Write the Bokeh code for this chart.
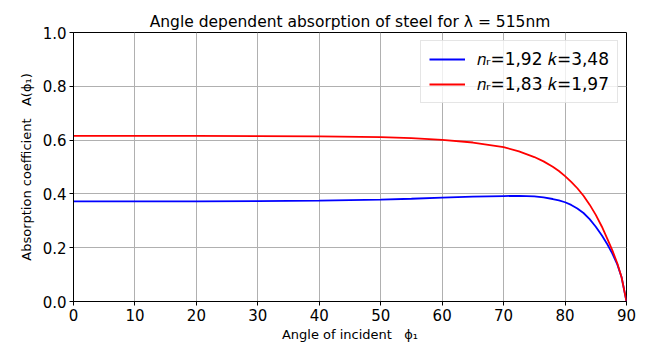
from bokeh.plotting import figure
from bokeh.models import Range1d, Legend, LegendItem, FixedTicker
from bokeh.embed import file_html
from bokeh.resources import INLINE

# Data
angles = [0, 10, 20, 30, 40, 50, 55, 60, 65, 70, 72.5, 75, 76.5, 78, 79, 80, 81, 82, 83, 84, 85, 86,
          86.9, 87.7, 88.5, 89.2, 90]
absorb_blue = [0.372, 0.372, 0.372, 0.373, 0.375, 0.379, 0.382, 0.386, 0.390, 0.392, 0.393, 0.391,
               0.387, 0.381, 0.376, 0.369, 0.359, 0.346, 0.329, 0.306, 0.278, 0.245, 0.212, 0.178,
               0.138, 0.090, 0.0]
absorb_red = [0.616, 0.616, 0.616, 0.615, 0.614, 0.611, 0.607, 0.601, 0.591, 0.574, 0.558, 0.537,
              0.521, 0.501, 0.485, 0.466, 0.445, 0.421, 0.393, 0.360, 0.322, 0.278, 0.232, 0.190,
              0.142, 0.090, 0.0]
label_blue = "𝑛ᵣ=1,92 𝑘=3,48"
label_red = "𝑛ᵣ=1,83 𝑘=1,97"
x_ticks = [0, 10, 20, 30, 40, 50, 60, 70, 80, 90]
y_ticks = [0.0, 0.2, 0.4, 0.6, 0.8, 1.0]

FONT = "DejaVu Sans"
SP = "\u00a0\u00a0\u00a0"

p = figure(frame_width=553, frame_height=269, output_backend="svg", toolbar_location=None,
           x_range=Range1d(0, 90), y_range=Range1d(0, 1),
           min_border_left=73, min_border_right=22, min_border_top=32, min_border_bottom=49,
           title="Angle dependent absorption of steel for λ = 515nm")
p.title.align = "center"
p.title.text_font = FONT
p.title.text_font_size = "15.5px"
p.title.text_font_style = "normal"
p.title.text_color = "black"
p.title.offset = 0
p.title.standoff = 4

p.outline_line_color = "black"
p.outline_line_width = 1
p.background_fill_color = "white"
p.border_fill_color = "white"

for ax in (p.xaxis[0], p.yaxis[0]):
    ax.axis_line_color = "black"
    ax.major_tick_line_color = "black"
    ax.major_tick_out = 4
    ax.major_tick_in = 0
    ax.minor_tick_line_color = None
    ax.major_label_text_font = FONT
    ax.major_label_text_font_size = "15px"
    ax.major_label_text_color = "black"
    ax.axis_label_text_font = FONT
    ax.axis_label_text_font_size = "13px"
    ax.axis_label_text_font_style = "normal"
    ax.axis_label_text_color = "black"

p.xaxis.ticker = FixedTicker(ticks=x_ticks)
p.yaxis.ticker = FixedTicker(ticks=y_ticks)
p.yaxis.major_label_overrides = {t: f"{t:.1f}" for t in y_ticks}
p.xaxis.axis_label = "Angle of incident" + SP + "ϕ₁"
p.yaxis.axis_label = "Absorption coefficient" + SP + "A(ϕ₁)"
p.xaxis.axis_label_standoff = 3
p.yaxis.axis_label_standoff = 6
p.xaxis.major_label_standoff = 3
p.yaxis.major_label_standoff = 3

p.xgrid.grid_line_color = "#b0b0b0"
p.ygrid.grid_line_color = "#b0b0b0"
p.xgrid.grid_line_width = 1
p.ygrid.grid_line_width = 1

rb = p.line(angles, absorb_blue, line_color="blue", line_width=1.8)
rr = p.line(angles, absorb_red, line_color="red", line_width=1.8)

legend = Legend(items=[LegendItem(label=label_blue, renderers=[rb]),
                       LegendItem(label=label_red, renderers=[rr])],
                location="top_right")
legend.margin = 8
legend.padding = 8
legend.spacing = 5
legend.glyph_width = 36
legend.glyph_height = 18
legend.label_height = 18
legend.label_standoff = 12
legend.label_text_font = FONT
legend.label_text_font_size = "17px"
legend.label_text_color = "black"
legend.border_line_color = "#cccccc"
legend.border_line_width = 1
legend.background_fill_alpha = 0.8
p.add_layout(legend)

open("out.html", "w").write(file_html(p, INLINE))
